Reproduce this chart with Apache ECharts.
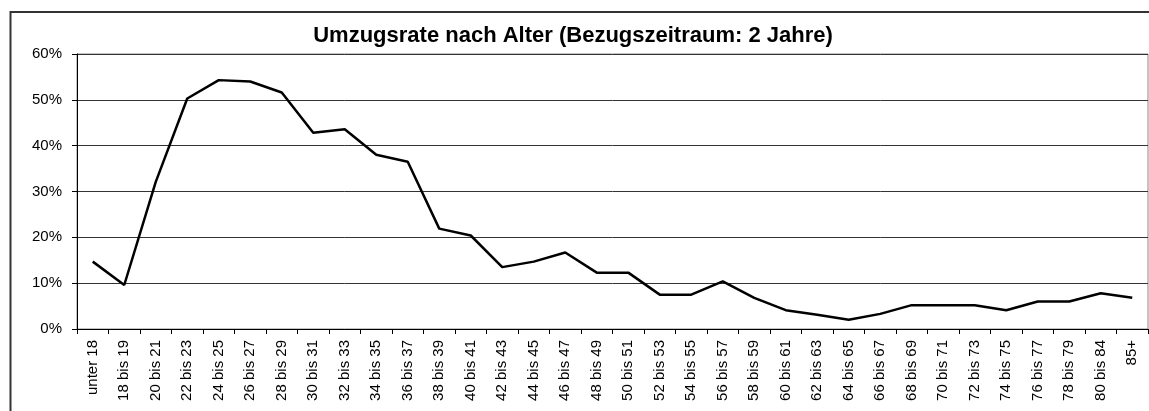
<!DOCTYPE html>
<html>
<head>
<meta charset="utf-8">
<script src="https://cdn.jsdelivr.net/npm/echarts@6/dist/echarts.min.js"></script>
<style>
  html, body { margin: 0; padding: 0; background: #fff; }
  #main { width: 1149px; height: 411px; }
</style>
</head>
<body>
<div id="main"></div>
<script>
// Altersgruppen
const ageGroups = ['unter 18', '18 bis 19', '20 bis 21', '22 bis 23', '24 bis 25', '26 bis 27',
  '28 bis 29', '30 bis 31', '32 bis 33', '34 bis 35', '36 bis 37', '38 bis 39', '40 bis 41',
  '42 bis 43', '44 bis 45', '46 bis 47', '48 bis 49', '50 bis 51', '52 bis 53', '54 bis 55',
  '56 bis 57', '58 bis 59', '60 bis 61', '62 bis 63', '64 bis 65', '66 bis 67', '68 bis 69',
  '70 bis 71', '72 bis 73', '74 bis 75', '76 bis 77', '78 bis 79', '80 bis 84', '85+']
// Umzugsrate in Prozent
const moveRate = [14.7, 9.6, 32.1, 50.3, 54.3, 54.0, 51.6, 42.8, 43.6, 38.0, 36.5, 21.9, 20.4,
  13.5, 14.7, 16.7, 12.3, 12.3, 7.5, 7.5, 10.4, 6.8, 4.1, 3.1, 2.0, 3.3, 5.2,
  5.2, 5.2, 4.1, 6.0, 6.0, 7.8, 6.8]
const yTicks = [0, 10, 20, 30, 40, 50, 60]

const chart = echarts.init(document.getElementById('main'), null, { renderer: 'canvas' })
const font = '"Liberation Sans", Arial, sans-serif'

chart.setOption({
  animation: false,
  backgroundColor: '#fff',
  title: {
    text: 'Umzugsrate nach Alter (Bezugszeitraum: 2 Jahre)',
    left: 568,
    textAlign: 'center',
    top: 20,
    textStyle: { fontFamily: font, fontSize: 22, fontWeight: 'bold', color: '#000' }
  },
  graphic: [{
    type: 'rect',
    shape: { x: 10.5, y: 12, width: 1300, height: 600 },
    style: { fill: null, stroke: '#333', lineWidth: 2 },
    silent: true
  }],
  grid: {
    left: 77, right: 1, top: 54, bottom: 82,
    show: true, borderColor: '#888', borderWidth: 1
  },
  xAxis: {
    type: 'category',
    data: ageGroups,
    boundaryGap: true,
    axisLine: { lineStyle: { color: '#000', width: 1 } },
    axisTick: { show: true, alignWithLabel: false, length: 5, lineStyle: { color: '#000' } },
    axisLabel: {
      interval: 0, rotate: 90, margin: 11,
      fontFamily: font, fontSize: 15, color: '#000'
    }
  },
  yAxis: {
    type: 'value',
    min: yTicks[0], max: yTicks[yTicks.length - 1], interval: 10,
    axisLine: { show: true, lineStyle: { color: '#000', width: 1 } },
    axisTick: { show: true, length: 5, lineStyle: { color: '#000' } },
    splitLine: { lineStyle: { color: '#333', width: 1 } },
    axisLabel: {
      formatter: '{value}%', margin: 15,
      fontFamily: font, fontSize: 15, color: '#000'
    }
  },
  series: [{
    type: 'line',
    data: moveRate,
    symbol: 'none',
    lineStyle: { color: '#000', width: 2.5 }
  }]
})
</script>
</body>
</html>
